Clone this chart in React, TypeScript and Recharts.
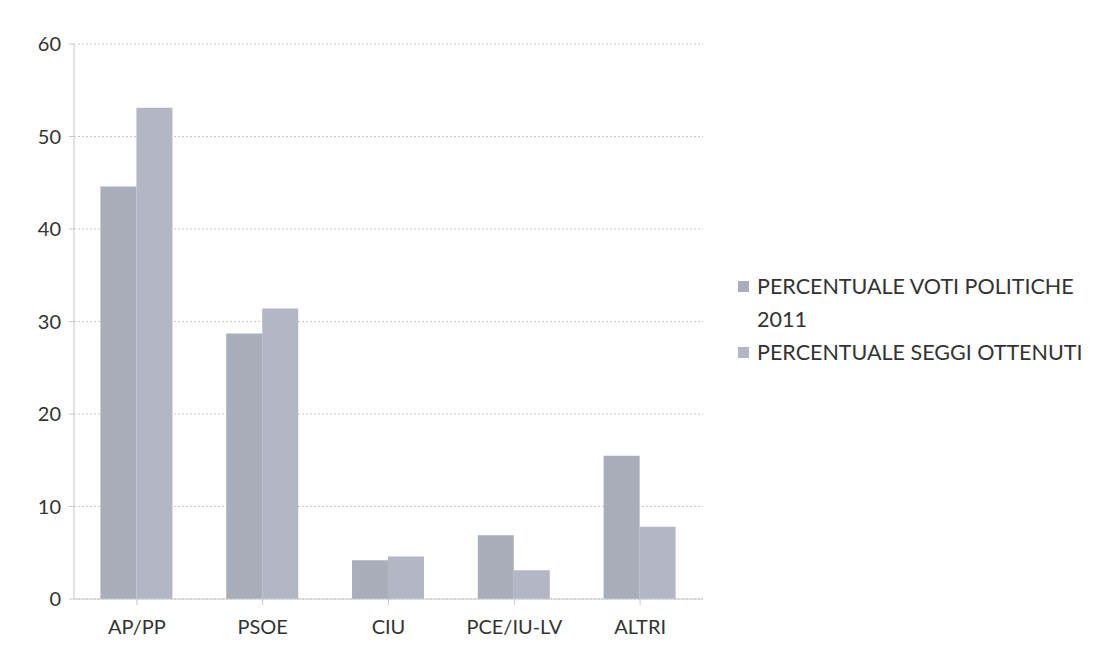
import { BarChart, Bar, XAxis, YAxis, CartesianGrid } from "recharts";

const partiti = ["AP/PP", "PSOE", "CIU", "PCE/IU-LV", "ALTRI"];
const votiPolitiche2011 = [44.6, 28.7, 4.2, 6.9, 15.5];
const seggiOttenuti = [53.1, 31.4, 4.6, 3.1, 7.8];
const ticksY = [0, 10, 20, 30, 40, 50, 60];

const serie = [
  { key: "voti", nome: "PERCENTUALE VOTI POLITICHE 2011", colore: "#aaaebb" },
  { key: "seggi", nome: "PERCENTUALE SEGGI OTTENUTI", colore: "#b3b7c5" },
];

const data = partiti.map((p, i) => ({ partito: p, voti: votiPolitiche2011[i], seggi: seggiOttenuti[i] }));

const FONT = "Lato, 'Open Sans', sans-serif";

function Legenda() {
  return (
    <div style={{ position: "absolute", left: 730, top: 262, width: 360, fontFamily: FONT, fontSize: 21.5, color: "#333", lineHeight: "33px" }}>
      {serie.map((s) => (
        <div key={s.key} style={{ display: "flex", alignItems: "flex-start" }}>
          <span style={{ width: 11, height: 11, background: s.colore, marginTop: 11, marginRight: 8, flex: "none" }} />
          <span style={{ width: 335 }}>{s.nome}</span>
        </div>
      ))}
    </div>
  );
}

export default function App() {
  return (
    <div style={{ position: "relative", width: 1091, height: 638, background: "#fff" }}>
      <BarChart
        width={1091}
        height={638}
        data={data}
        margin={{ top: 36, right: 396, left: 0, bottom: 7 }}
        barCategoryGap="21%"
        barGap={0}
      >
        <CartesianGrid vertical={false} stroke="#c8c8c8" strokeDasharray="2 2" />
        <XAxis
          dataKey="partito"
          height={40}
          stroke="#c8c8c8"
          tickSize={6}
          tickMargin={15}
          interval={0}
          tick={{ fill: "#333", fontSize: 20, fontFamily: FONT }}
        />
        <YAxis
          width={66}
          domain={[0, 60]}
          ticks={ticksY}
          stroke="#c8c8c8"
          tickSize={5}
          tickMargin={8}
          tick={{ fill: "#333", fontSize: 20, fontFamily: FONT }}
        />
        {serie.map((s) => (
          <Bar key={s.key} dataKey={s.key} name={s.nome} fill={s.colore} isAnimationActive={false} />
        ))}
      </BarChart>
      <Legenda />
    </div>
  );
}
